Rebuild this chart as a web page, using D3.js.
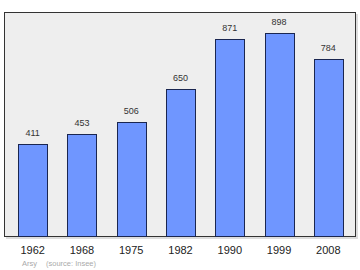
<!DOCTYPE html>
<html>
<head>
<meta charset="utf-8">
<script src="https://cdn.jsdelivr.net/npm/d3@7"></script>
<style>
body { margin: 0; background: #fff; }
text { font-family: "Liberation Sans", Arial, sans-serif; }
</style>
</head>
<body>
<script>
var years = ["1962", "1968", "1975", "1982", "1990", "1999", "2008"];
var population = [411, 453, 506, 650, 871, 898, 784];
var town = "Arsy";
var source = "(source: Insee)";

var w = 360,
    h = 270,
    frame = {left: 4, top: 12, right: 356, bottom: 237};

var svg = d3.select("body").append("svg")
    .attr("width", w)
    .attr("height", h);

var x = d3.scaleBand()
    .domain(years)
    .range([8, 353])
    .paddingInner(0.41)
    .paddingOuter(0.205);

var y = d3.scaleLinear()
    .domain([0, 898])
    .range([frame.bottom, 33]);

// plot area with slight shadow
svg.append("rect")
    .attr("x", frame.left + 2)
    .attr("y", frame.top + 2)
    .attr("width", frame.right - frame.left)
    .attr("height", frame.bottom - frame.top)
    .attr("fill", "#dddddd");
svg.append("rect")
    .attr("x", frame.left + 0.5)
    .attr("y", frame.top + 0.5)
    .attr("width", frame.right - frame.left - 1)
    .attr("height", frame.bottom - frame.top - 1)
    .attr("fill", "#eeeeee")
    .attr("stroke", "#333")
    .attr("stroke-width", 1);

var data = years.map(function(d, i) { return {year: d, value: population[i]}; });

svg.selectAll(".bar")
    .data(data)
    .enter()
    .append("rect")
    .attr("class", "bar")
    .attr("x", function(d) { return Math.round(x(d.year)) + 0.5; })
    .attr("y", function(d) { return Math.round(y(d.value)) + 0.5; })
    .attr("width", Math.round(x.bandwidth()))
    .attr("height", function(d) { return Math.round(frame.bottom - y(d.value)) - 1; })
    .attr("fill", "#6f96ff")
    .attr("stroke", "#1a2650")
    .attr("stroke-width", 1);

svg.selectAll(".val")
    .data(data)
    .enter()
    .append("text")
    .attr("class", "val")
    .attr("x", function(d) { return x(d.year) + x.bandwidth() / 2; })
    .attr("y", function(d) { return y(d.value) - 8; })
    .attr("text-anchor", "middle")
    .attr("font-size", 9)
    .attr("fill", "#333")
    .text(function(d) { return d.value; });

var axis = d3.axisBottom(x).tickSize(0).tickPadding(0);
var axisG = svg.append("g")
    .attr("transform", "translate(0," + 246 + ")")
    .call(axis);
axisG.select(".domain").remove();
axisG.selectAll("text")
    .attr("font-size", 11)
    .attr("font-family", "Liberation Sans, Arial, sans-serif")
    .attr("fill", "#222")
    .attr("dy", "0.71em");

svg.append("text")
    .attr("x", 22)
    .attr("y", 266)
    .attr("font-size", 7.5)
    .attr("fill", "#aaa")
    .text(town);
svg.append("text")
    .attr("x", 46)
    .attr("y", 266)
    .attr("font-size", 7.5)
    .attr("fill", "#aaa")
    .text(source);
</script>
</body>
</html>
